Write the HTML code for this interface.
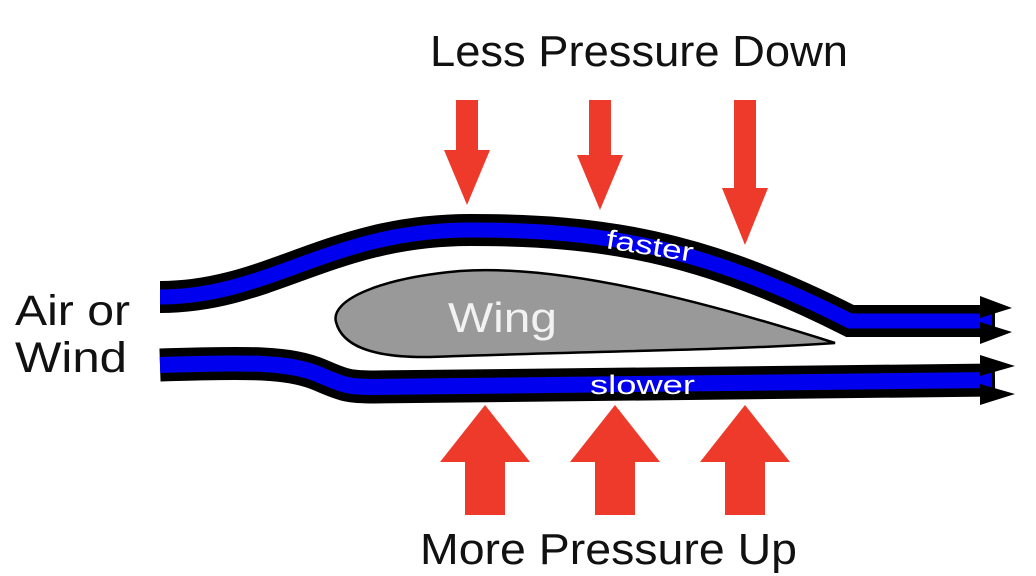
<!DOCTYPE html>
<html><head><meta charset="utf-8"><style>
html,body{margin:0;padding:0;background:#fff;}
svg{display:block;font-family:"Liberation Sans","DejaVu Sans",sans-serif;}
</style></head><body>
<svg width="1036" height="576" viewBox="0 0 1036 576">
  <text x="430" y="66" font-size="44" textLength="418" lengthAdjust="spacingAndGlyphs" fill="#111">Less Pressure Down</text>
  <text x="420" y="564" font-size="44" textLength="377" lengthAdjust="spacingAndGlyphs" fill="#111">More Pressure Up</text>
  <text x="15" y="325" font-size="43" textLength="115" lengthAdjust="spacingAndGlyphs" fill="#111">Air or</text>
  <text x="15" y="372" font-size="43" textLength="112" lengthAdjust="spacingAndGlyphs" fill="#111">Wind</text>

  <g fill="#ee3a2a">
    <polygon points="456,100 478,100 478,150 490,150 467,205 444,150 456,150"/>
    <polygon points="589,100 611,100 611,155 623,155 600,210 577,155 589,155"/>
    <polygon points="734,100 756,100 756,188 768,188 745,245 722,188 734,188"/>
  </g>

  <g fill="none">
    <path d="M160,297 C270,297 330,230 470,230 C600,230 700,245 850,321 L995,321" stroke="#000" stroke-width="32"/>
    <path d="M160,297 C270,297 330,230 470,230 C600,230 700,245 850,321 L992,321" stroke="#0000ee" stroke-width="15"/>
    <polygon points="980,296 1012,308 980,318" fill="#000"/>
    <polygon points="980,322 1012,332 980,344" fill="#000"/>
  </g>
  <g fill="none">
    <path d="M160,365 C250,362 290,362 320,375 C345,386 350,387 375,387 L995,380" stroke="#000" stroke-width="33"/>
    <path d="M160,365 C250,362 290,362 320,375 C345,386 350,387 375,387 L992,380" stroke="#0000ee" stroke-width="16"/>
    <polygon points="980,355 1015,366 980,376" fill="#000"/>
    <polygon points="980,384 1015,394 980,405" fill="#000"/>
  </g>

  <path d="M336,322 C330,300 380,278 460,271 C560,264 700,300 835,343 C740,350 560,352 430,357 C370,358 342,345 336,322 Z" fill="#999" stroke="#000" stroke-width="2.5"/>
  <text x="448" y="332" font-size="42" textLength="109" lengthAdjust="spacingAndGlyphs" fill="#f2f2f2">Wing</text>
  <text x="605" y="248" font-size="27" textLength="88" lengthAdjust="spacingAndGlyphs" fill="#fff" transform="rotate(9 605 248)">faster</text>
  <text x="590" y="394" font-size="27" textLength="105" lengthAdjust="spacingAndGlyphs" fill="#fff">slower</text>

  <g fill="#ee3a2a">
    <polygon points="465,515 505,515 505,462 530,462 485,405 440,462 465,462"/>
    <polygon points="595,515 635,515 635,462 660,462 615,405 570,462 595,462"/>
    <polygon points="725,515 765,515 765,462 790,462 745,405 700,462 725,462"/>
  </g>
</svg>
</body></html>
